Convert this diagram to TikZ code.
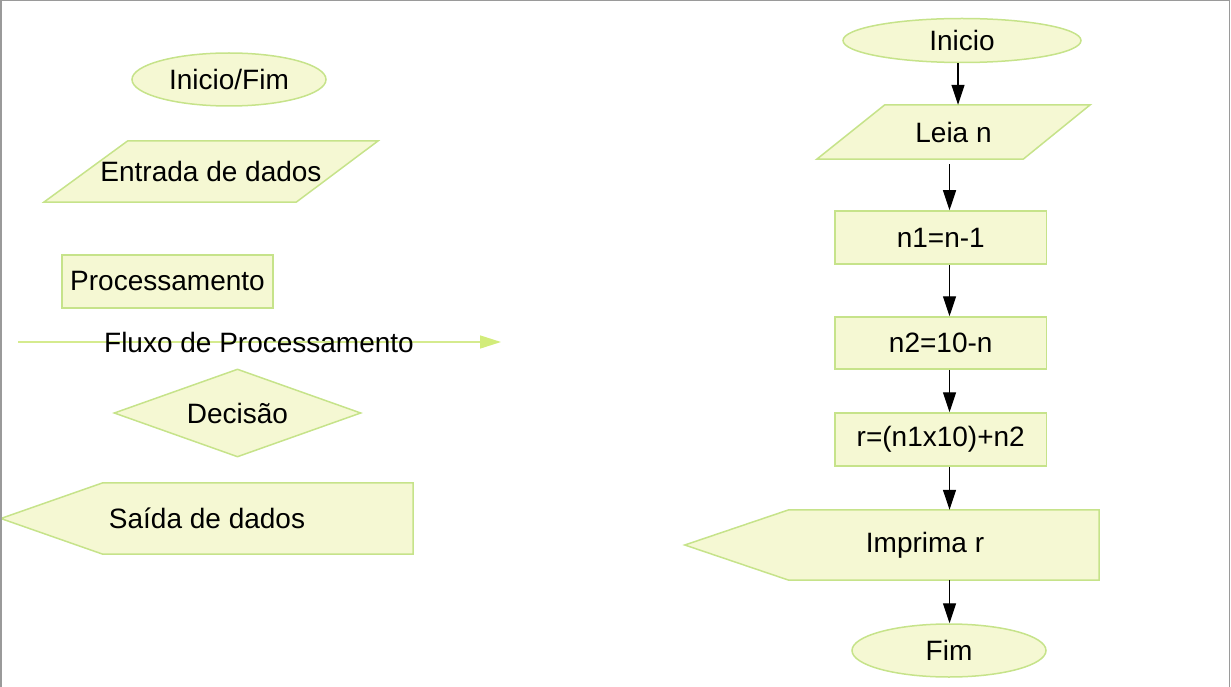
\documentclass[tikz,border=0pt]{standalone}
\usepackage{fontspec}
\setmainfont{Liberation Sans}
\usetikzlibrary{shapes.geometric,arrows.meta,backgrounds}
\definecolor{boxfill}{HTML}{F5F8D3}
\definecolor{boxline}{HTML}{C6E38A}
\definecolor{flowline}{HTML}{D5EB8E}
\definecolor{flowhead}{HTML}{D2EC7A}
\definecolor{framegray}{HTML}{9A9A9A}
\tikzset{
  lbl/.style={font=\fontsize{28}{33}\selectfont, inner sep=0pt, text=black},
  boxshape/.style={lbl, draw=boxline, fill=boxfill, line width=1.5pt},
  term/.style={boxshape, ellipse},
  proc/.style={boxshape, rectangle},
  dec/.style={boxshape, diamond, aspect=2.8},
  ghost/.style={lbl, rectangle},
  fillshape/.style={draw=boxline, fill=boxfill, line width=1.5pt, line join=miter},
  conn/.style={line width=1.2pt, -{Triangle[length=20pt,width=13pt]}},
}
\begin{document}
\begin{tikzpicture}[x=1pt,y=-1pt]
\useasboundingbox (0,0) rectangle (1231,687);
% frame
\draw[framegray, line width=1.5pt] (0.75,687) -- (0.75,0.75) -- (1229.5,0.75) -- (1229.5,687);

% ---------- legend ----------
\node[term, minimum width=194pt, minimum height=53pt] (legIF) at (229,79.5) {Inicio/Fim};
\node[ghost, minimum width=334pt, minimum height=61pt] (legIn) at (211,171.5) {Entrada de dados};
\node[proc, minimum width=211pt, minimum height=53pt] (legProc) at (167.5,281.5) {Processamento};
\coordinate (flowA) at (18,342);
\coordinate (flowB) at (501,342);
\draw[flowline, line width=1.5pt, -{Triangle[length=21pt,width=13pt,color=flowhead]}] (flowA) -- (flowB);
\node[lbl, anchor=base] (flowT) at (259,352) {Fluxo de Processamento};
\node[dec, minimum width=247pt, minimum height=88pt] (legDec) at (237.5,413) {Decisão};
\node[ghost, minimum width=412pt, minimum height=71pt] (legOut) at (207,518.5) {Saída de dados};

% ---------- flowchart ----------
\node[term, minimum width=238pt, minimum height=44pt] (inicio) at (962,40.5) {Inicio};
\node[ghost, minimum width=273pt, minimum height=54pt] (leia) at (953.5,132) {Leia n};
\node[proc, minimum width=211.5pt, minimum height=53pt] (n1) at (940.75,237.5) {n1=n-1};
\node[proc, minimum width=211.5pt, minimum height=52pt] (n2) at (940.75,343) {n2=10-n};
\node[proc, minimum width=211.5pt, minimum height=53pt] (r) at (940.75,439.5) {r=(n1x10)+n2};
\node[ghost, minimum width=414pt, minimum height=70pt] (imprima) at (892,545) {\hspace*{66pt}\raisebox{-3pt}{Imprima r}};
\node[term, minimum width=194pt, minimum height=53pt] (fim) at (949,650.5) {Fim};

% shapes drawn behind their texts
\begin{scope}[on background layer]
\path[fillshape] ([xshift=84pt]legIn.north west) -- (legIn.north east)
  -- ([xshift=-82pt]legIn.south east) -- (legIn.south west) -- cycle;
\path[fillshape] ([xshift=102pt]legOut.north west) -- (legOut.north east)
  -- (legOut.south east) -- ([xshift=102pt]legOut.south west) -- (legOut.west) -- cycle;
\path[fillshape] ([xshift=68pt]leia.north west) -- (leia.north east)
  -- ([xshift=-67pt]leia.south east) -- (leia.south west) -- cycle;
\path[fillshape] ([xshift=104pt]imprima.north west) -- (imprima.north east)
  -- (imprima.south east) -- ([xshift=104pt]imprima.south west) -- (imprima.west) -- cycle;
\end{scope}

% connectors
\draw[conn] ([xshift=-4pt]inicio.south) -- ([xshift=4.5pt]leia.north);
\draw[conn] ([xshift=-4pt,yshift=-5pt]leia.south) -- ([xshift=8.75pt]n1.north);
\draw[conn] ([xshift=8.75pt]n1.south) -- ([xshift=8.75pt]n2.north);
\draw[conn] ([xshift=8.75pt]n2.south) -- ([xshift=8.75pt]r.north);
\draw[conn] ([xshift=8.75pt]r.south) -- ([xshift=57.5pt]imprima.north);
\draw[conn] ([xshift=57.5pt]imprima.south) -- ([xshift=0.5pt]fim.north);
\end{tikzpicture}
\end{document}
